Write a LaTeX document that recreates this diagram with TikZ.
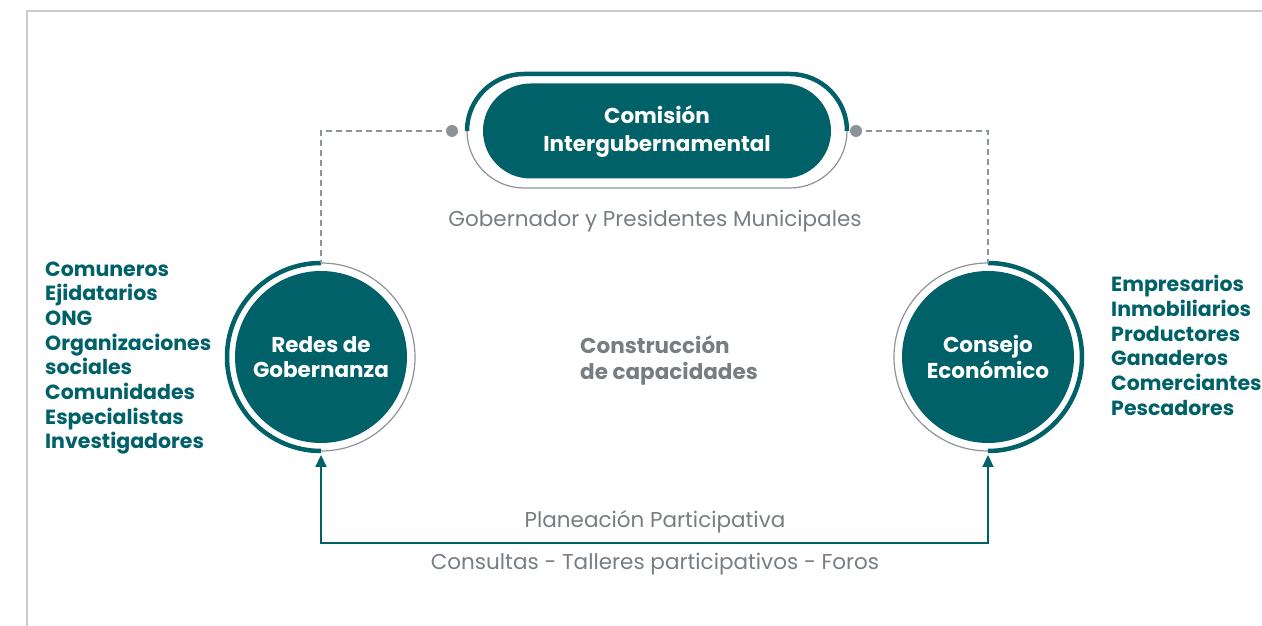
\documentclass[tikz,border=0pt]{standalone}
\usepackage{fontspec}
\setmainfont{Poppins}
\usepackage{xcolor}
\usepackage{tikz}
\usetikzlibrary{arrows.meta, positioning, calc, shapes.misc}
\definecolor{cteal}{RGB}{0,97,104}
\definecolor{cgreytxt}{RGB}{118,126,132}
\definecolor{cgreyline}{RGB}{140,147,153}
\definecolor{cframe}{RGB}{200,204,208}

\begin{document}
\begin{tikzpicture}[
    x=1pt, y=1pt,
    >={Triangle[length=12pt, width=11pt]},
    every node/.style={font=\fontsize{21.5}{26}\selectfont, inner sep=0pt},
    hub/.style={circle, fill=cteal, minimum size=172pt, text=white, align=center, font=\fontsize{21.5}{25.5}\selectfont\bfseries},
    pill/.style={rounded rectangle, fill=cteal, minimum width=348pt, minimum height=95pt, text=white, align=center, font=\fontsize{21.5}{28}\selectfont\bfseries},
    ringthick/.style={cteal, line width=4.5pt},
    ringthin/.style={cgreyline, line width=1.2pt},
    greytxt/.style={text=cgreytxt, align=center},
    listtxt/.style={text=cteal, align=left, font=\fontsize{20.5}{24.7}\selectfont\bfseries},
    dashlink/.style={cgreyline, line width=1.5pt, dash pattern=on 6pt off 4pt},
]
    \useasboundingbox (0,0) rectangle (1262,626);

    % Frame
    \draw[cframe, line width=1.2pt] (1262,615) -| (27,0);

    % Comision
    \node[pill] (comision) at (657,495) {Comisión\\Intergubernamental};
    \draw[ringthick] ($(comision.center)+(-190,0)$) arc (180:90:57) -- ++(266,0) arc (90:0:57);
    \draw[ringthin] ($(comision.center)+(-190,0)$) arc (180:270:57) -- ++(266,0) arc (270:360:57);
    \fill[cgreyline] (452,495) circle (6pt) coordinate (dotL);
    \fill[cgreyline] (856,495) circle (6pt) coordinate (dotR);

    % Redes de Gobernanza
    \node[hub] (redes) at (321,269) {Redes de\\Gobernanza};
    \draw[ringthick] ($(redes.center)+(90:94)$) arc (90:270:94);
    \draw[ringthin] ($(redes.center)+(90:94)$) arc (90:-90:94);
    \coordinate (redesTop) at ($(redes.center)+(0,94)$);
    \coordinate (redesBot) at ($(redes.center)+(0,-98)$);

    % Consejo Economico
    \node[hub] (consejo) at (988,269) {Consejo\\Económico};
    \draw[ringthick] ($(consejo.center)+(90:94)$) arc (90:-90:94);
    \draw[ringthin] ($(consejo.center)+(90:94)$) arc (90:270:94);
    \coordinate (consejoTop) at ($(consejo.center)+(0,94)$);
    \coordinate (consejoBot) at ($(consejo.center)+(0,-98)$);

    % Dashed links
    \draw[dashlink] (dotL) -| (redesTop);
    \draw[dashlink] (dotR) -| (consejoTop);

    % Planeacion arrow
    \draw[<->, cteal, line width=2.2pt] (redesBot) -- ++(0,-88) coordinate (baseL) -| (consejoBot);

    % Texts
    \node[greytxt] (gobernador) at (655,405) {Gobernador y Presidentes Municipales};
    \node[greytxt, anchor=west, align=left, font=\fontsize{21.5}{26}\selectfont\bfseries] (capacidades) at (580,266) {Construcción\\de capacidades};
    \node[greytxt] (planeacion) at (655,104) {Planeación Participativa};
    \node[greytxt] (consultas) at (655,62) {Consultas - Talleres participativos - Foros};

    % Actores
    \node[listtxt, anchor=west] (actoresL) at (45,268) {Comuneros\\Ejidatarios\\ONG\\Organizaciones\\sociales\\Comunidades\\Especialistas\\Investigadores};
    \node[listtxt, anchor=west] (actoresR) at (1111,280.5) {Empresarios\\Inmobiliarios\\Productores\\Ganaderos\\Comerciantes\\Pescadores};
\end{tikzpicture}
\end{document}
